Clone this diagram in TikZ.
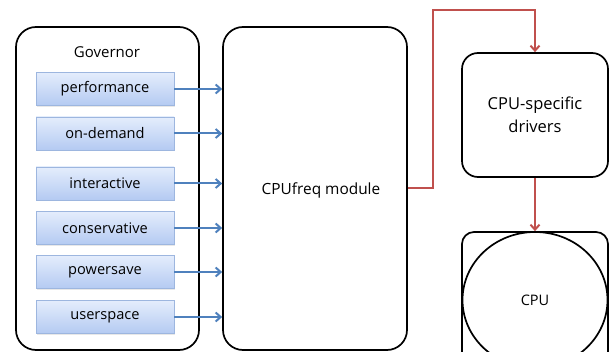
\documentclass[tikz,border=0pt]{standalone}
\usepackage{fontspec}
\setmainfont{Open Sans}
\usepackage{tikz}
\usetikzlibrary{arrows.meta,positioning,shapes.geometric,shadows}
\definecolor{polTop}{HTML}{E4EDFC}
\definecolor{polBot}{HTML}{B4CAF2}
\definecolor{polEdge}{HTML}{9DB6DF}
\definecolor{arrBlue}{HTML}{4F81BD}
\definecolor{arrRed}{HTML}{C0504D}
\tikzset{
  grp/.style={draw,line width=1.7pt,rounded corners=20pt,align=center},
  blk/.style={draw,line width=1.7pt,rounded corners=16pt,align=center,
              font=\fontsize{15}{18}\selectfont},
  pol/.style={draw=polEdge,line width=0.8pt,top color=polTop,bottom color=polBot,
              minimum width=138pt,minimum height=33pt,inner sep=0pt,
              drop shadow={opacity=0.18,shadow xshift=1pt,shadow yshift=-1.2pt},
              font=\fontsize{14.6}{17}\selectfont},
  arr/.style={-{Straight Barb[length=5pt,width=9pt]},draw=arrBlue,line width=2pt},
  rarr/.style={-{Straight Barb[length=5pt,width=9pt]},draw=arrRed,line width=2pt},
}

\begin{document}
\begin{tikzpicture}[x=1pt,y=-1pt]
\clip (0,0) rectangle (613,352);
\fill[white] (0,0) rectangle (613,352);
% governor group and CPUfreq core
\node[grp,minimum width=183pt,minimum height=323pt] (gov) at (107.5,188.5) {};
\node[font=\fontsize{15}{18}\selectfont] (govlbl) at (107,52) {Governor};
\node[blk,rounded corners=20pt,minimum width=184pt,minimum height=323pt] (freq) at (315,188.5) {};
\node[font=\fontsize{15.4}{18}\selectfont] (freqlbl) at (321,190) {CPUfreq module};
% policies feeding the core
\foreach \txt/\yy [count=\i] in {performance/89,on-demand/133.5,interactive/183.5,
                                 conservative/228,powersave/272,userspace/317}{
  \node[pol] (pol\i) at (105,\yy) {\txt};
  \draw[arr] (pol\i.east) -- (pol\i.east -| freq.west);
}
% driver and hardware
\node[blk,font=\fontsize{16.5}{23}\selectfont,minimum width=146pt,minimum height=124pt]
  (drv) at (535,115) {CPU-specific\\drivers};
\node[blk,rounded corners=12pt,minimum width=146pt,minimum height=150pt] (cpu) at (535,307) {};
\node[ellipse,draw,line width=1.7pt,inner sep=0pt,minimum width=145pt,minimum height=136pt,
      font=\fontsize{14.5}{17}\selectfont] (core) at (535,300) {CPU};
\coordinate (bend) at (433,10);
\draw[rarr] (freq.east) -| (bend) -| (drv.north);
\draw[rarr] (drv.south) -- (cpu.north);
\end{tikzpicture}
\end{document}
